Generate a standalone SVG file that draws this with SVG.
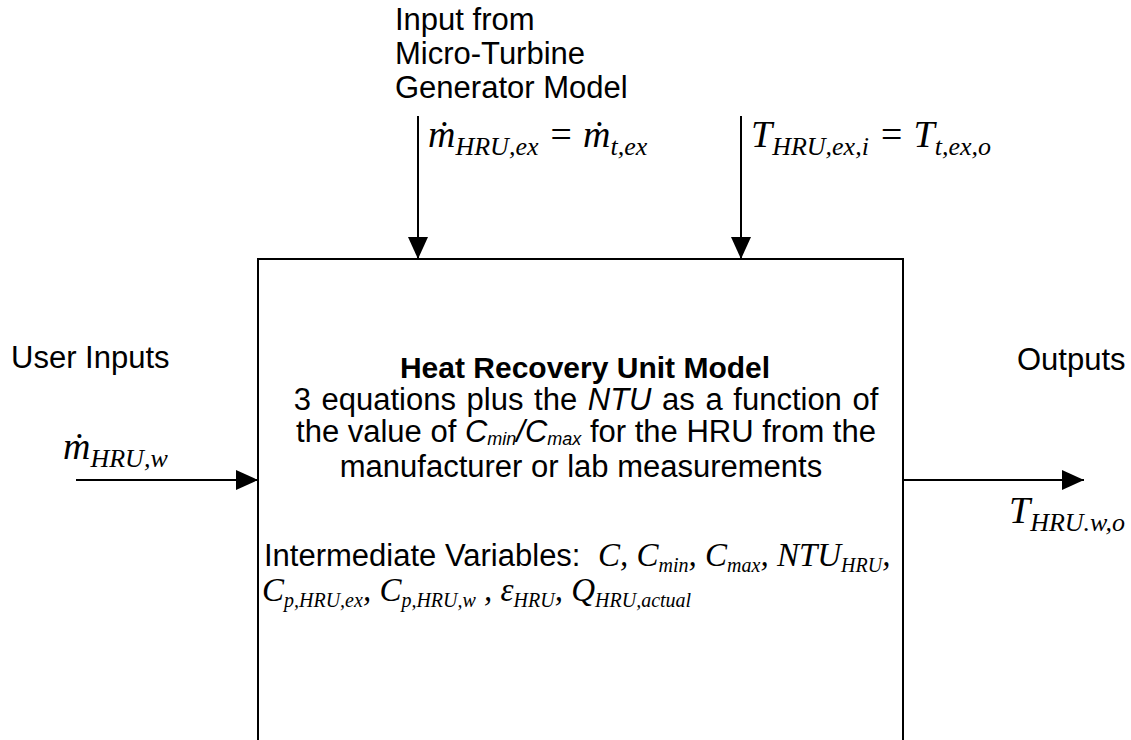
<svg xmlns="http://www.w3.org/2000/svg" width="1131" height="740" viewBox="0 0 1131 740">
<style>
.s{font-family:"Liberation Sans",Arial,sans-serif;font-size:31px;fill:#000}
.b{font-weight:bold;font-size:30px}
.m{font-family:"Liberation Serif","Times New Roman",serif;font-style:italic;font-size:38px;fill:#000}
.sub{font-size:26px}
.m2{font-family:"Liberation Serif","Times New Roman",serif;font-style:italic;font-size:33px;fill:#000}
.sub2{font-size:20px}
.ln{stroke:#000;stroke-width:2;fill:none}
</style>
<defs>
<marker id="ah" markerWidth="22" markerHeight="20" refX="22" refY="10" orient="auto" markerUnits="userSpaceOnUse">
<path d="M0,0 L22,10 L0,20 Z" fill="#000"/>
</marker>
</defs>
<rect width="1131" height="740" fill="#fff"/>
<g id="hru">
<rect x="258" y="259" width="645" height="500" class="ln"/>
<text class="s b" x="585" y="378" text-anchor="middle">Heat Recovery Unit Model</text>
<text class="s" x="586" y="410" text-anchor="middle" word-spacing="2">3 equations plus the <tspan font-style="italic">NTU</tspan> as a function of</text>
<text class="s" x="586" y="442" text-anchor="middle">the value of <tspan font-style="italic">C<tspan font-size="18" dy="3">min</tspan><tspan dy="-3">/C</tspan><tspan font-size="18" dy="3">max</tspan></tspan><tspan dy="-3"> for the HRU from the</tspan></text>
<text class="s" x="581" y="477" text-anchor="middle">manufacturer or lab measurements</text>
<text class="s" x="264" y="566" font-size="29.5">Intermediate Variables:</text>
<text class="m2" x="598" y="566">C, C<tspan class="sub2" dy="6">min</tspan><tspan dy="-6">, C</tspan><tspan class="sub2" dy="6">max</tspan><tspan dy="-6">, NTU</tspan><tspan class="sub2" dy="6">HRU</tspan><tspan dy="-6">,</tspan></text>
<text class="m2" x="262" y="601">C<tspan class="sub2" dy="6">p,HRU,ex</tspan><tspan dy="-6">, C</tspan><tspan class="sub2" dy="6">p,HRU,w</tspan><tspan dy="-6"> , ε</tspan><tspan class="sub2" dy="6">HRU</tspan><tspan dy="-6">, Q</tspan><tspan class="sub2" dy="6">HRU,actual</tspan></text>
</g>
<g id="mtg-input">
<text class="s" x="395" y="30" font-size="30.5">Input from</text>
<text class="s" x="395" y="64" font-size="30.5">Micro-Turbine</text>
<text class="s" x="395" y="98" font-size="30.5">Generator Model</text>
<text class="m" x="428" y="147">ṁ<tspan class="sub" dy="8">HRU,ex</tspan><tspan dy="-8"> = ṁ</tspan><tspan class="sub" dy="8">t,ex</tspan></text>
<text class="m" x="751" y="147">T<tspan class="sub" dy="8">HRU,ex,i</tspan><tspan dy="-8"> = T</tspan><tspan class="sub" dy="8">t,ex,o</tspan></text>
</g>
<g id="user-inputs">
<text class="s" x="11" y="368">User Inputs</text>
<text class="m" x="63" y="459">ṁ<tspan class="sub" dy="8">HRU,w</tspan></text>
</g>
<g id="outputs">
<text class="s" x="1017" y="370">Outputs</text>
<text class="m" x="1009" y="523">T<tspan class="sub" dy="8">HRU.w,o</tspan></text>
</g>
<g id="connectors">
<line x1="418" y1="116" x2="418" y2="259" class="ln" marker-end="url(#ah)"/>
<line x1="741" y1="116" x2="741" y2="259" class="ln" marker-end="url(#ah)"/>
<line x1="76" y1="480" x2="258" y2="480" class="ln" marker-end="url(#ah)"/>
<line x1="903" y1="480" x2="1084" y2="480" class="ln" marker-end="url(#ah)"/>
</g>
</svg>
